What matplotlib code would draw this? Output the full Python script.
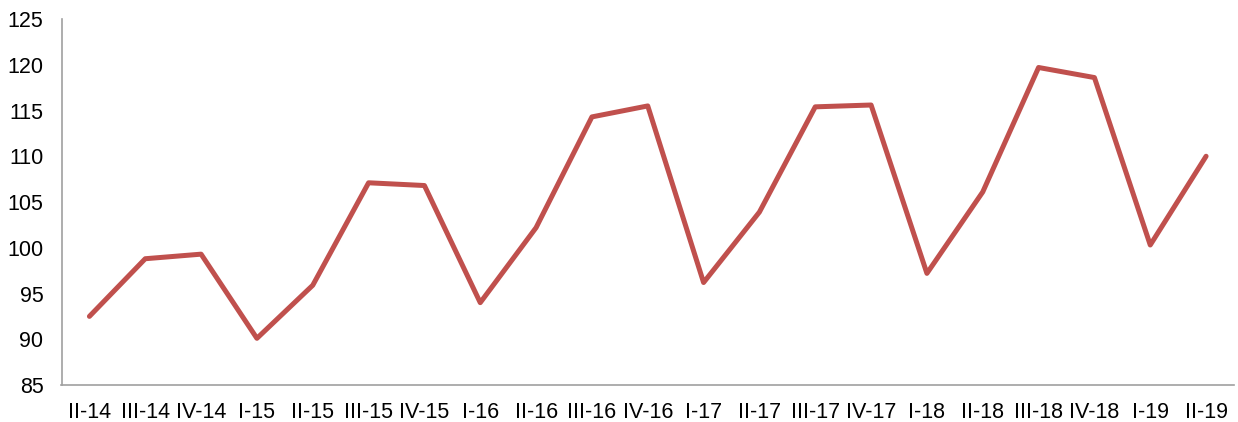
import matplotlib.pyplot as plt

plt.rcParams['font.family'] = ['Liberation Sans', 'DejaVu Sans']

# Quarterly index values
quarters = ['II-14', 'III-14', 'IV-14', 'I-15', 'II-15', 'III-15', 'IV-15',
            'I-16', 'II-16', 'III-16', 'IV-16', 'I-17', 'II-17', 'III-17',
            'IV-17', 'I-18', 'II-18', 'III-18', 'IV-18', 'I-19', 'II-19']
values = [92.5, 98.8, 99.3, 90.1, 95.9, 107.1, 106.8, 94.0, 102.2, 114.3,
          115.5, 96.2, 103.9, 115.4, 115.6, 97.2, 106.1, 119.7, 118.6, 100.3, 110.0]

fig = plt.figure(figsize=(12.38, 4.22), dpi=100)
ax = fig.add_axes([61.5/1238, 1 - 385/422, (1234 - 61.5)/1238, (385 - 19)/422])

x = list(range(len(quarters)))
ax.plot(x, values, color='#C0504D', linewidth=3.6,
        solid_joinstyle='round', solid_capstyle='round')

ax.set_xlim(-0.5, len(quarters) - 0.5)
ax.set_ylim(85, 125)
ax.set_yticks(range(85, 126, 5))
ax.set_xticks(x)
ax.set_xticklabels(quarters)
ax.tick_params(length=0, labelsize=15.5, colors='black')
ax.tick_params(axis='y', pad=13)
ax.tick_params(axis='x', pad=12)

for side in ['top', 'right']:
    ax.spines[side].set_visible(False)
for side in ['left', 'bottom']:
    ax.spines[side].set_color('#a0a0a0')
    ax.spines[side].set_linewidth(1.2)

plt.savefig('out.png', dpi=100)
